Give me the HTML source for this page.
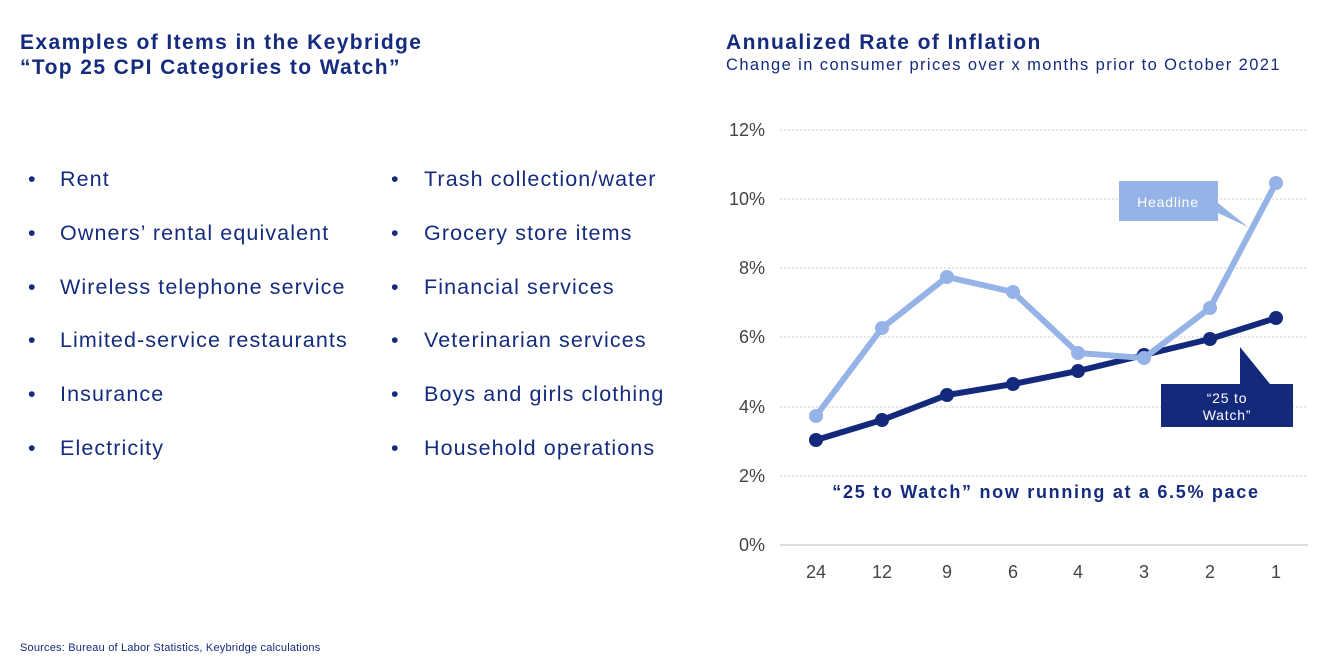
<!DOCTYPE html>
<html><head><meta charset="utf-8"><style>
body{margin:0;width:1333px;height:668px;background:#fff;font-family:"Century Gothic","Liberation Sans",sans-serif;color:#152b7e;position:relative;overflow:hidden}
.t{position:absolute;white-space:nowrap}
.h{font-weight:bold;font-size:21px;line-height:25px;letter-spacing:1.4px}
.li{font-size:21.5px;letter-spacing:1.1px}
</style></head><body>
<div class="t h" style="left:20px;top:30px">Examples of Items in the Keybridge<br>“Top 25 CPI Categories to Watch”</div>
<div class="t h" style="left:726px;top:30px">Annualized Rate of Inflation</div>
<div class="t" style="left:726px;top:56px;font-size:16.5px;letter-spacing:1.4px">Change in consumer prices over x months prior to October 2021</div>
<div class="t li" style="left:28px;top:153px;line-height:53.8px;letter-spacing:0">•<br>•<br>•<br>•<br>•<br>•</div>
<div class="t li" style="left:60px;top:153px;line-height:53.8px">Rent<br>Owners’ rental equivalent<br>Wireless telephone service<br>Limited-service restaurants<br>Insurance<br>Electricity</div>
<div class="t li" style="left:391px;top:153px;line-height:53.8px;letter-spacing:0">•<br>•<br>•<br>•<br>•<br>•</div>
<div class="t li" style="left:424px;top:153px;line-height:53.8px">Trash collection/water<br>Grocery store items<br>Financial services<br>Veterinarian services<br>Boys and girls clothing<br>Household operations</div>
<div class="t" style="left:20px;top:642px;font-size:11px;color:#152b7e;letter-spacing:0.2px">Sources: Bureau of Labor Statistics, Keybridge calculations</div>
<svg width="1333" height="668" style="position:absolute;left:0;top:0" font-family="Century Gothic, Liberation Sans, sans-serif">
<g stroke="#c8c8c8" stroke-dasharray="2,2" stroke-width="1">
<line x1="780" x2="1308" y1="130" y2="130"/><line x1="780" x2="1308" y1="199" y2="199"/><line x1="780" x2="1308" y1="268" y2="268"/><line x1="780" x2="1308" y1="337" y2="337"/><line x1="780" x2="1308" y1="407" y2="407"/><line x1="780" x2="1308" y1="476" y2="476"/></g>
<line x1="780" x2="1308" y1="545" y2="545" stroke="#bbb"/>
<g font-size="18" fill="#444" text-anchor="end">
<text x="765" y="136">12%</text><text x="765" y="205">10%</text><text x="765" y="274">8%</text><text x="765" y="343">6%</text><text x="765" y="413">4%</text><text x="765" y="482">2%</text><text x="765" y="551">0%</text></g>
<g font-size="18" fill="#444" text-anchor="middle">
<text x="816" y="578">24</text><text x="882" y="578">12</text><text x="947" y="578">9</text><text x="1013" y="578">6</text><text x="1078" y="578">4</text><text x="1144" y="578">3</text><text x="1210" y="578">2</text><text x="1276" y="578">1</text></g>
<polyline fill="none" stroke="#132a7c" stroke-width="6" points="816,440 882,420 947,395 1013,384 1078,371 1144,355 1210,339 1276,318"/>
<g fill="#132a7c"><circle cx="816" cy="440" r="7"/><circle cx="882" cy="420" r="7"/><circle cx="947" cy="395" r="7"/><circle cx="1013" cy="384" r="7"/><circle cx="1078" cy="371" r="7"/><circle cx="1144" cy="355" r="7"/><circle cx="1210" cy="339" r="7"/><circle cx="1276" cy="318" r="7"/></g>
<polyline fill="none" stroke="#95b3e6" stroke-width="6" points="816,416 882,328 947,277 1013,292 1078,353 1144,358 1210,308 1276,183"/>
<g fill="#95b3e6"><circle cx="816" cy="416" r="7"/><circle cx="882" cy="328" r="7"/><circle cx="947" cy="277" r="7"/><circle cx="1013" cy="292" r="7"/><circle cx="1078" cy="353" r="7"/><circle cx="1144" cy="358" r="7"/><circle cx="1210" cy="308" r="7"/><circle cx="1276" cy="183" r="7"/></g>
<path d="M1119,181 H1218 V203 L1248,227 L1218,213 V221 H1119 Z" fill="#95b3e6"/>
<text x="1168" y="207" font-size="14" fill="#fff" text-anchor="middle" letter-spacing="0.8">Headline</text>
<path d="M1161,384 H1270 L1240,347 V384 H1293 V427 H1161 Z" fill="#132a7c"/>
<text x="1227" y="403" font-size="14" fill="#fff" text-anchor="middle" letter-spacing="0.8">“25 to</text>
<text x="1227" y="420" font-size="14" fill="#fff" text-anchor="middle" letter-spacing="0.8">Watch”</text>
<text x="1046" y="498" font-size="18" font-weight="bold" fill="#152b7e" text-anchor="middle" letter-spacing="1.7">“25 to Watch” now running at a 6.5% pace</text>
</svg>
</body></html>
